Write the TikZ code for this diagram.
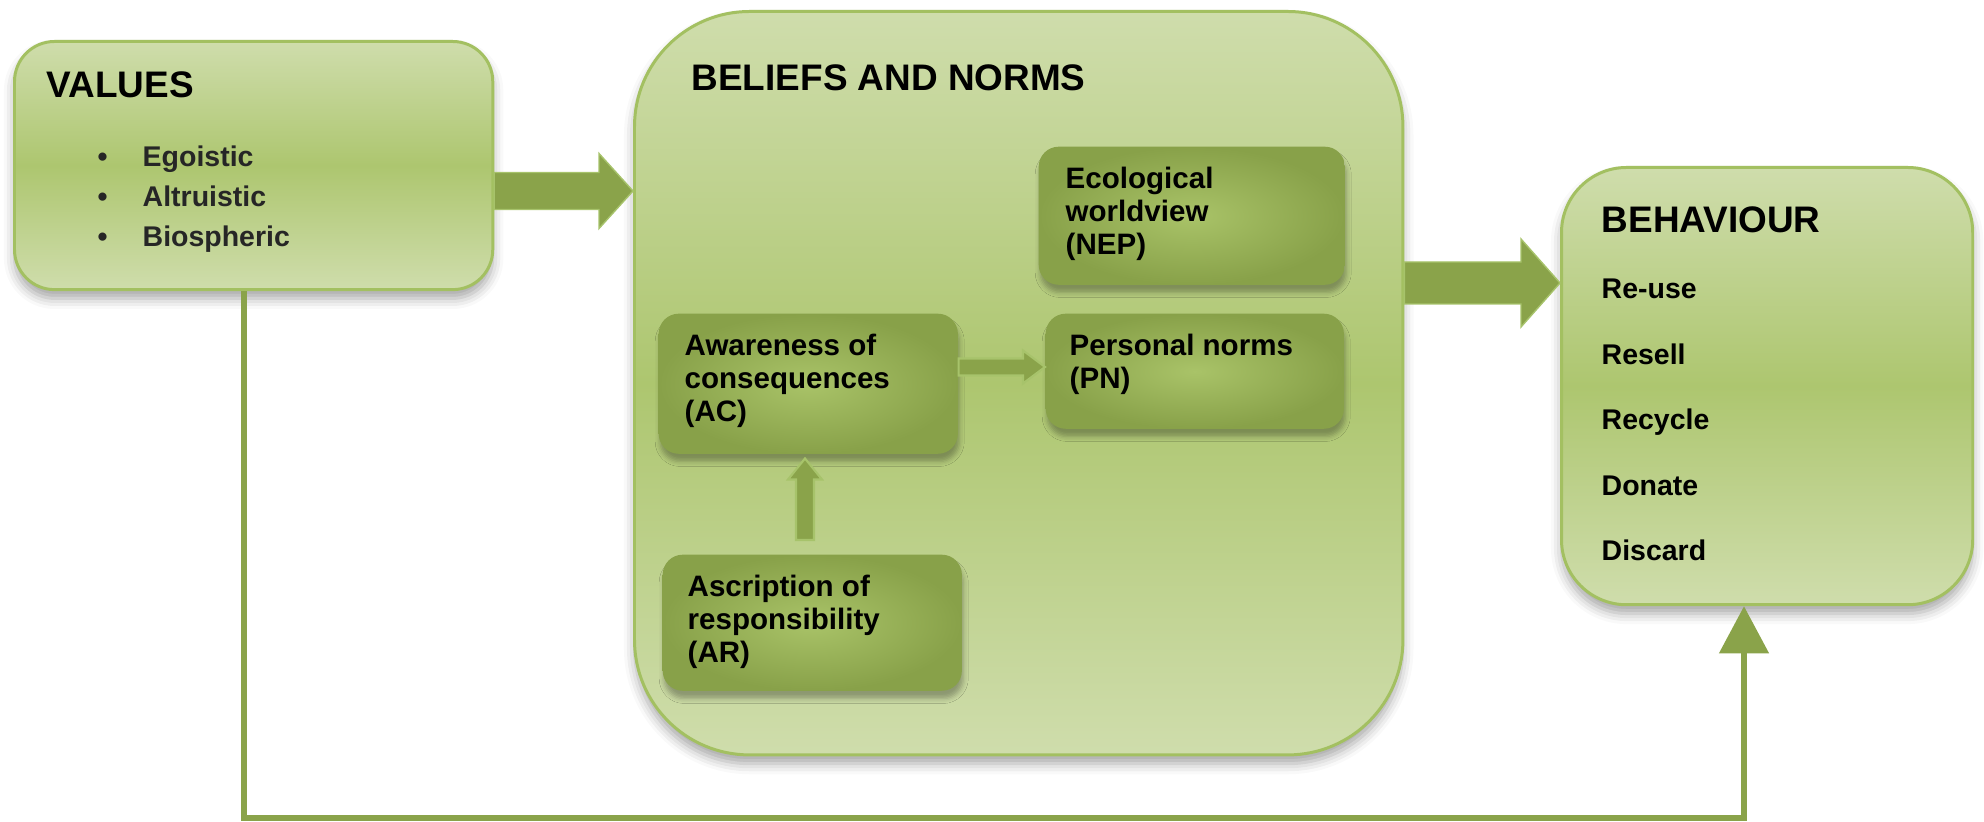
\documentclass[tikz,border=0pt]{standalone}
\usepackage{fontspec}
\setmainfont{Liberation Sans}
\usetikzlibrary{calc,arrows.meta,shadows.blur}

\definecolor{boxlight}{HTML}{CFDDAC}
\definecolor{boxmid}{HTML}{ADC66F}
\definecolor{boxline}{HTML}{A3C061}
\definecolor{innerlight}{HTML}{A9C368}
\definecolor{innerdark}{HTML}{88A149}
\definecolor{arrowfill}{HTML}{8AA34A}
\definecolor{arrowedge}{HTML}{A7C36B}

% horizontal block arrow: start, tip, shaft half width, head half width, head length, style
\newcommand\hblockarrow[6]{%
  \path[#6] ($(#1)+(0,-#3)$) -- ($(#2)+(-#5,-#3)$) -- ($(#2)+(-#5,-#4)$) -- (#2)
    -- ($(#2)+(-#5,#4)$) -- ($(#2)+(-#5,#3)$) -- ($(#1)+(0,#3)$) -- cycle;}
% upward block arrow: start (bottom), tip (top), shaft half width, head half width, head length, style
\newcommand\vblockarrow[6]{%
  \path[#6] ($(#1)+(-#3,0)$) -- ($(#2)+(-#3,#5)$) -- ($(#2)+(-#4,#5)$) -- (#2)
    -- ($(#2)+(#4,#5)$) -- ($(#2)+(#3,#5)$) -- ($(#1)+(#3,0)$) -- cycle;}

\tikzset{
  outerbox/.style={draw=boxline, line width=0.85pt,
    top color=boxlight, bottom color=boxlight, middle color=boxmid,
    anchor=north west, inner sep=0pt,
    blur shadow={shadow xshift=0pt, shadow yshift=-2.5pt, shadow blur radius=3pt, shadow opacity=35}},
  innerbox/.style={shading=radial, inner color=innerlight, outer color=innerdark,
    anchor=north west, inner sep=0pt, rounded corners=0.2cm,
    blur shadow={shadow xshift=0.4pt, shadow yshift=-2.2pt, shadow blur radius=1.4pt, shadow opacity=30}},
  bigarrow/.style={fill=arrowfill, draw=arrowedge, line width=0.4pt},
  smallarrow/.style={fill=arrowfill, draw=arrowedge, line width=0.6pt},
  feedback/.style={draw=arrowfill, line width=1.45pt, line join=miter,
    -{Triangle[length=13.4pt,width=13.9pt]}},
  title/.style={font=\fontsize{10.5}{12}\selectfont\bfseries, anchor=base west, inner sep=0pt},
  label/.style={font=\fontsize{8.4}{10}\selectfont\bfseries, anchor=base west, inner sep=0pt},
  item/.style={font=\fontsize{8.1}{10}\selectfont\bfseries, anchor=base west, inner sep=0pt},
}

\begin{document}
\begin{tikzpicture}[x=0.01cm, y=-0.01cm]
\useasboundingbox (0,0) rectangle (1984,822);

% main boxes
\node[outerbox, rounded corners=0.4cm, minimum width=4.78cm, minimum height=2.48cm] (values) at (13,40) {};
\node[outerbox, rounded corners=1.15cm, minimum width=7.68cm, minimum height=7.43cm] (beliefs) at (633,10) {};
\node[outerbox, rounded corners=0.65cm, minimum width=4.11cm, minimum height=4.37cm] (behaviour) at (1560,166) {};

% values
\node[title] (vtitle) at (46,98) {VALUES};
\foreach \t [count=\i] in {Egoistic,Altruistic,Biospheric} {
  \node[item, text=black!85] (vbul-\i) at (97,127+40*\i) {•};
  \node[item, text=black!85] (vitem-\i) at (142,127+40*\i) {\t};
}

% beliefs and norms
\node[title] (btitle) at (691,91) {BELIEFS AND NORMS};
\node[innerbox, minimum width=3.06cm, minimum height=1.38cm] (nep) at (1038,146) {};
\node[innerbox, minimum width=2.99cm, minimum height=1.40cm] (ac) at (658,313) {};
\node[innerbox, minimum width=2.98cm, minimum height=1.15cm] (pn) at (1045,313) {};
\node[innerbox, minimum width=2.99cm, minimum height=1.36cm] (ar) at (662,554) {};

\foreach \t [count=\i] in {Ecological,worldview,(NEP)}
  \node[label] (nep-\i) at (1065,156+33*\i) {\t};
\foreach \t [count=\i] in {Awareness of,consequences,(AC)}
  \node[label] (ac-\i) at (684,323+33*\i) {\t};
\foreach \t [count=\i] in {Personal norms,(PN)}
  \node[label] (pn-\i) at (1069,323+33*\i) {\t};
\foreach \t [count=\i] in {Ascription of,responsibility,(AR)}
  \node[label] (ar-\i) at (687,564+33*\i) {\t};

% behaviour
\node[title] (htitle) at (1601,233) {BEHAVIOUR};
\foreach \t [count=\i] in {Re-use,Resell,Recycle,Donate,Discard}
  \node[item] (hitem-\i) at (1601,233.5+65.5*\i) {\t};

% block arrows
\coordinate (ya) at (0,191);
\coordinate (yb) at (0,283);
\coordinate (yc) at (0,367);
\coordinate (xd) at (805,0);
\coordinate (a1s) at (values.east |- ya);
\coordinate (a1t) at (beliefs.west |- ya);
\coordinate (a2s) at (beliefs.east |- yb);
\coordinate (a2t) at (behaviour.west |- yb);
\coordinate (a3s) at (ac.east |- yc);
\coordinate (a3t) at (pn.west |- yc);
\coordinate (a4s) at ($(ar.north -| xd)+(0,-14)$);
\coordinate (a4t) at ($(ac.south -| xd)+(0,4)$);

\hblockarrow{a1s}{a1t}{18.5}{37.5}{34}{bigarrow}
\hblockarrow{a2s}{a2t}{21}{44}{39}{bigarrow}
\hblockarrow{a3s}{a3t}{8.5}{16.5}{22}{smallarrow}
\vblockarrow{a4s}{a4t}{9}{17}{21}{smallarrow}

% feedback line from values to behaviour
\coordinate (fbL) at (244,818);
\coordinate (fbR) at (1744,818);
\draw[feedback] (values.south -| fbL) -- (fbL) -- (fbR) -- (behaviour.south -| fbR);
\end{tikzpicture}
\end{document}
